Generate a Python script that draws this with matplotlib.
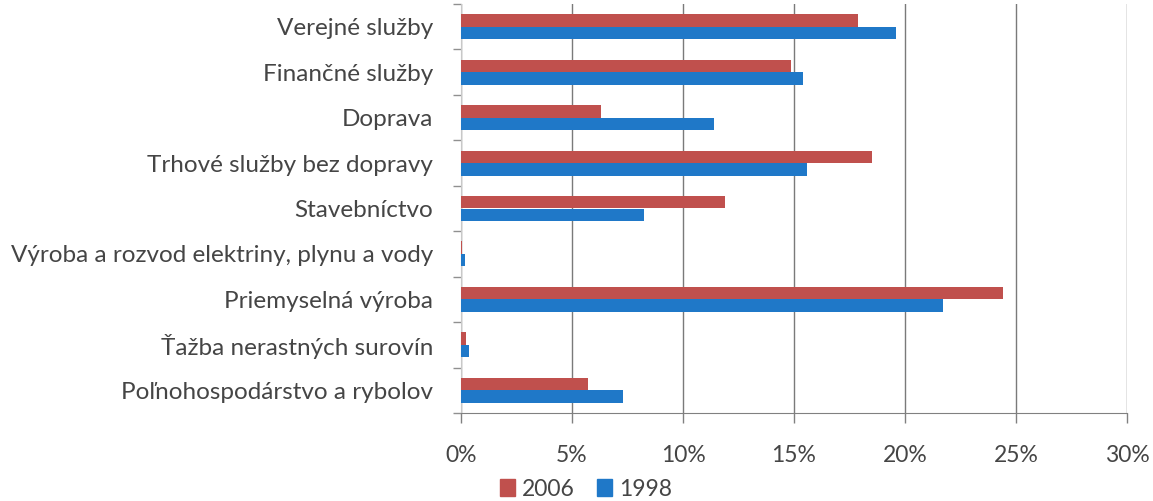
import numpy as np
import matplotlib.pyplot as plt
from matplotlib.patches import Patch

categories = [
    "Verejné služby",
    "Finančné služby",
    "Doprava",
    "Trhové služby bez dopravy",
    "Stavebníctvo",
    "Výroba a rozvod elektriny, plynu a vody",
    "Priemyselná výroba",
    "Ťažba nerastných surovín",
    "Poľnohospodárstvo a rybolov",
]
values_2006 = [17.9, 14.85, 6.3, 18.5, 11.9, 0.05, 24.4, 0.22, 5.7]
values_1998 = [19.6, 15.4, 11.4, 15.6, 8.25, 0.17, 21.7, 0.36, 7.3]
xticks = [0, 5, 10, 15, 20, 25, 30]

red = "#C0504D"
blue = "#1F78C8"
text_col = "#454545"

plt.rcParams["font.family"] = ["Lato", "DejaVu Sans"]

W, H = 1153, 501
fig = plt.figure(figsize=(W / 100, H / 100), dpi=100)
ax = fig.add_axes([461 / W, 1 - 413 / H, (1127 - 461) / W, (413 - 4) / H])

y = np.arange(len(categories))
h = 0.275
ax.barh(y - h / 2, values_2006, height=h, color=red, zorder=3)
ax.barh(y + h / 2, values_1998, height=h, color=blue, zorder=3)

ax.set_ylim(len(categories) - 0.5, -0.5)
ax.set_xlim(0, 30)

ax.set_yticks(y)
ax.set_yticklabels(categories, fontsize=17.5, color=text_col)
ax.set_yticks(np.arange(len(categories) + 1) - 0.5, minor=True)
ax.tick_params(axis="y", which="major", length=0, pad=20)
ax.tick_params(axis="y", which="minor", length=6, color="#909090", width=1)

ax.set_xticks(xticks)
ax.set_xticklabels([f"{t}%" for t in xticks], fontsize=16.5, color=text_col)
ax.tick_params(axis="x", length=7, color="#808080", width=1, pad=16)

ax.grid(axis="x", color="#7a7a7a", linewidth=1, zorder=0)
for s in ["top", "right"]:
    ax.spines[s].set_visible(False)
ax.spines["left"].set_color("#c8c8c8")
ax.spines["bottom"].set_color("#808080")

handles = [Patch(color=red, label="2006"), Patch(color=blue, label="1998")]
fig.legend(handles=handles, loc="center", bbox_to_anchor=(586 / W, 1 - 489 / H),
           ncol=2, frameon=False, fontsize=16.5, handlelength=0.65, handleheight=0.7,
           handletextpad=0.3, columnspacing=1.0, labelcolor=text_col,
           borderpad=0, borderaxespad=0)

fig.savefig("out.png", dpi=100, facecolor="white")
